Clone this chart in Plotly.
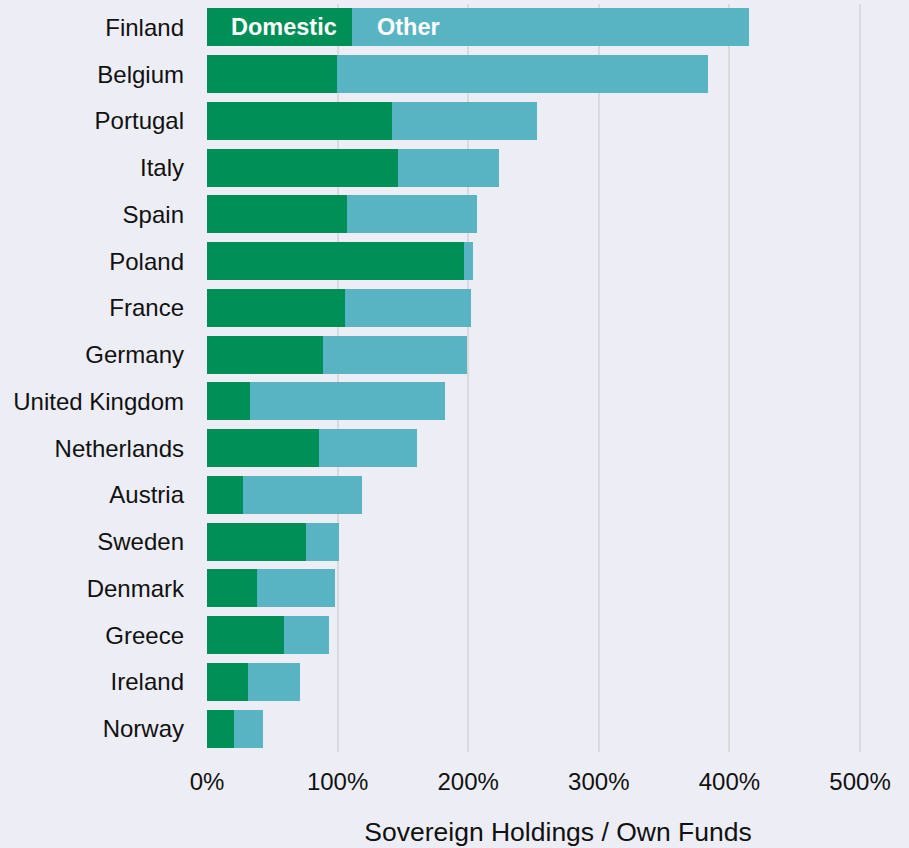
import plotly.graph_objects as go

countries = ["Finland", "Belgium", "Portugal", "Italy", "Spain", "Poland", "France",
             "Germany", "United Kingdom", "Netherlands", "Austria", "Sweden",
             "Denmark", "Greece", "Ireland", "Norway"]
domestic = [111, 99.5, 141.7, 146, 107, 196.8, 105.7, 88.8, 33, 85.8, 27.6, 75.8, 38.3, 59, 31.4, 20.7]
total = [415, 383.6, 252.7, 223.6, 206.7, 203.7, 202, 199, 182, 160.8, 118.7, 101, 98, 93.4, 71.2, 42.9]
other = [round(t - d, 1) for t, d in zip(total, domestic)]
tick_vals = [0, 100, 200, 300, 400, 500]
tick_text = ["0%", "100%", "200%", "300%", "400%", "500%"]

green = "#008F57"
teal = "#58B4C2"
bg = "#EDEEF5"
fam = "Liberation Sans, Arial, sans-serif"

fig = go.Figure()
fig.add_trace(go.Bar(y=countries, x=domestic, orientation="h", name="Domestic",
                     marker=dict(color=green, line=dict(width=0))))
fig.add_trace(go.Bar(y=countries, x=other, orientation="h", name="Other",
                     marker=dict(color=teal, line=dict(width=0))))

fig.add_annotation(x=59, y=countries[0], text="<b>Domestic</b>", showarrow=False,
                   font=dict(color="white", size=23.5, family=fam), xref="x", yref="y")
fig.add_annotation(x=154, y=countries[0], text="<b>Other</b>", showarrow=False,
                   font=dict(color="white", size=23.5, family=fam), xref="x", yref="y")

fig.update_layout(
    barmode="stack",
    bargap=0.19,
    width=909, height=848,
    margin=dict(l=207, r=0, t=4, b=96),
    paper_bgcolor=bg, plot_bgcolor=bg,
    showlegend=False,
    font=dict(family=fam, size=24, color="#111111"),
    xaxis=dict(range=[0, 537.5], tickvals=tick_vals, ticktext=tick_text,
               showgrid=True, gridcolor="#D9D9DE", gridwidth=2, zeroline=False,
               ticks="", ticklen=0, ticklabelstandoff=13,
               title=dict(text="Sovereign Holdings / Own Funds", standoff=28,
                          font=dict(size=26.5))),
    yaxis=dict(autorange="reversed", showgrid=False, zeroline=False, ticks="",
               ticklen=0, ticklabelstandoff=22),
)

fig.write_html("out.html")
